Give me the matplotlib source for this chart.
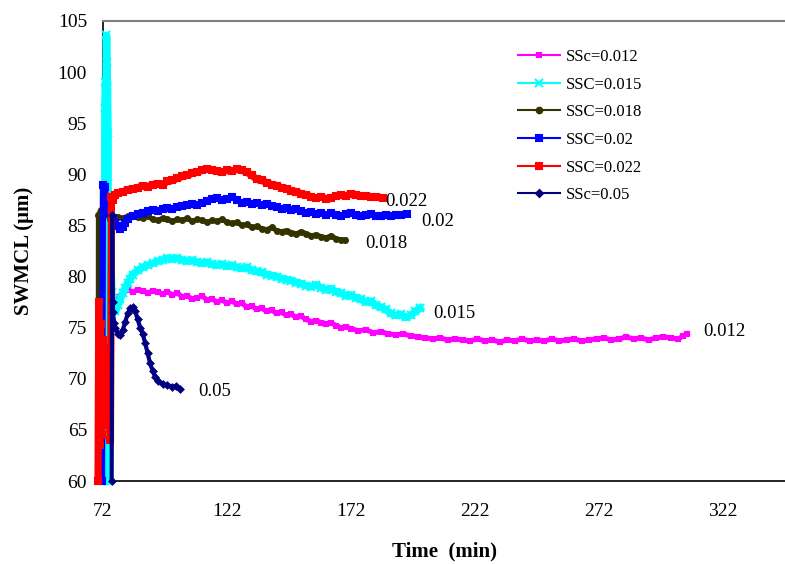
import matplotlib
matplotlib.use("Agg")
import matplotlib.pyplot as plt
from matplotlib.lines import Line2D

plt.rcParams['font.family'] = ['Liberation Serif', 'DejaVu Serif']

# ---------------- data ----------------
t_012 = [71.6, 72.0, 72.2, 72.5, 73.0, 73.5, 74.0, 75.0, 76.0, 78, 80, 82, 84, 86, 88, 90, 92, 94, 96, 98,
         100, 102, 104, 106, 108, 110, 112, 114, 116, 118, 120, 122, 124, 126, 128, 130, 132, 134, 136,
         138, 140, 142, 144, 146, 148, 150, 152, 154, 156, 158, 160, 162, 164, 166, 168, 170, 172, 175,
         178, 181, 184, 187, 190, 193, 196, 199, 202, 205, 208, 211, 214, 217, 220, 223, 226, 229, 232,
         235, 238, 241, 244, 247, 250, 253, 256, 259, 262, 265, 268, 271, 274, 277, 280, 283, 286, 289,
         292, 295, 298, 301, 304, 306, 307.5]
v_012 = [60.0, 89.0, 64.0, 79.0, 78.5, 78.0, 77.5, 77.0, 77.3, 78.0, 78.4, 78.7, 78.5, 78.7, 78.6, 78.4,
         78.6, 78.5, 78.3, 78.5, 78.2, 78.4, 78.0, 78.1, 77.8, 77.9, 78.1, 77.7, 77.8, 77.5, 77.7, 77.4,
         77.6, 77.3, 77.4, 77.0, 77.1, 76.8, 76.9, 76.6, 76.7, 76.4, 76.5, 76.2, 76.3, 76.0, 76.1, 75.8,
         75.6, 75.7, 75.5, 75.4, 75.5, 75.2, 75.0, 75.1, 74.9, 74.7, 74.8, 74.5, 74.6, 74.4, 74.3, 74.4,
         74.2, 74.1, 74.0, 73.9, 74.0, 73.8, 73.9, 73.8, 73.7, 73.9, 73.7, 73.8, 73.6, 73.8, 73.7, 73.9,
         73.7, 73.8, 73.7, 73.9, 73.7, 73.8, 73.9, 73.7, 73.8, 73.9, 74.0, 73.8, 73.9, 74.1, 73.9, 74.0,
         73.8, 74.0, 74.1, 74.0, 73.9, 74.2, 74.4]

t_015 = [72.6, 72.8, 73.0, 73.2, 73.4, 73.6, 73.8, 74.0, 74.2, 75.0, 75.5, 76, 77, 78, 79, 80, 81, 82, 83,
         84, 86, 88, 90, 92, 94, 96, 98, 100, 102, 104, 106, 108, 110, 112, 114, 116, 118, 120, 122,
         124, 126, 128, 130, 132, 134, 136, 138, 140, 142, 144, 146, 148, 150, 152, 154, 156, 158, 160,
         162, 164, 166, 168, 170, 172, 174, 176, 178, 180, 182, 184, 186, 188, 190, 192, 194, 196, 198,
         199.8]
v_015 = [60.0, 96.5, 99.0, 97.5, 103.6, 101.0, 98.5, 94.0, 60.0, 83.0, 78.5, 77.0, 76.6, 77.2, 77.8,
         78.4, 78.9, 79.4, 79.8, 80.2, 80.6, 80.9, 81.1, 81.3, 81.5, 81.6, 81.8, 81.7, 81.8, 81.6, 81.5,
         81.6, 81.4, 81.3, 81.4, 81.2, 81.1, 81.2, 81.0, 81.1, 80.9, 80.8, 80.9, 80.6, 80.5, 80.4, 80.2,
         80.1, 80.0, 79.8, 79.7, 79.6, 79.4, 79.3, 79.1, 79.0, 79.2, 78.9, 78.7, 78.8, 78.5, 78.4, 78.1,
         78.2, 77.9, 77.8, 77.5, 77.6, 77.2, 77.0, 76.8, 76.4, 76.2, 76.3, 76.0, 76.2, 76.6, 76.9]

t_018 = [70.0, 70.1, 71.0, 72.5, 73.2, 74, 75, 76, 77, 78, 80, 82, 84, 86, 88, 90, 92, 94, 96, 98, 100,
         102, 104, 106, 108, 110, 112, 114, 116, 118, 120, 122, 124, 126, 128, 130, 132, 134, 136, 138,
         140, 142, 144, 146, 148, 150, 152, 154, 156, 158, 160, 162, 164, 166, 168, 169.6]
v_018 = [60.0, 86.0, 86.5, 86.8, 86.3, 86.0, 85.6, 85.4, 85.5, 85.8, 85.7, 85.9, 86.0, 85.8, 85.7, 85.9,
         85.6, 85.5, 85.7, 85.6, 85.4, 85.6, 85.5, 85.7, 85.4, 85.6, 85.5, 85.3, 85.5, 85.4, 85.6, 85.3,
         85.2, 85.3, 85.0, 85.1, 84.8, 84.9, 84.7, 84.6, 84.8, 84.5, 84.4, 84.5, 84.3, 84.2, 84.4, 84.2,
         84.0, 84.1, 83.9, 83.8, 84.0, 83.7, 83.6, 83.6]

t_02 = [71.6, 72.0, 72.4, 72.8, 73.3, 74, 75, 76, 77, 78, 79, 80, 81, 82, 84, 86, 88, 90, 92, 94, 96, 98,
        100, 102, 104, 106, 108, 110, 112, 114, 116, 118, 120, 122, 124, 126, 128, 130, 132, 134, 136,
        138, 140, 142, 144, 146, 148, 150, 152, 154, 156, 158, 160, 162, 164, 166, 168, 170, 172, 174,
        176, 178, 180, 182, 184, 186, 188, 190, 192, 194.6]
v_02 = [60.0, 89.0, 87.5, 88.8, 86.5, 86.2, 86.2, 85.7, 85.2, 84.9, 84.7, 84.8, 85.2, 85.6, 85.9, 86.1,
        86.2, 86.4, 86.5, 86.4, 86.6, 86.7, 86.6, 86.8, 86.9, 87.0, 87.1, 87.0, 87.2, 87.4, 87.6, 87.7,
        87.5, 87.6, 87.8, 87.5, 87.2, 87.3, 87.1, 87.2, 87.0, 87.1, 86.9, 86.8, 86.6, 86.7, 86.5, 86.6,
        86.4, 86.2, 86.3, 86.1, 86.2, 86.0, 86.2, 86.0, 85.9, 86.1, 86.2, 86.0, 85.9, 86.0, 86.1, 85.9,
        85.9, 86.0, 85.9, 86.0, 86.0, 86.1]

t_022 = [70.0, 70.3, 70.6, 71.0, 71.4, 71.8, 72.2, 72.6, 73.0, 73.4, 73.8, 74.2, 74.6, 75.0, 75.4, 76, 77,
         78, 80, 82, 84, 86, 88, 90, 92, 94, 96, 98, 100, 102, 104, 106, 108, 110, 112, 114, 116, 118,
         120, 122, 124, 126, 128, 130, 132, 134, 136, 138, 140, 142, 144, 146, 148, 150, 152, 154, 156,
         158, 160, 162, 164, 166, 168, 170, 172, 174, 176, 178, 180, 182, 184.9]
v_022 = [60.0, 77.5, 63.5, 75.4, 64.5, 73.8, 66.0, 72.5, 67.0, 71.0, 68.0, 73.0, 65.5, 64.0, 87.8, 87.5,
         88.0, 88.2, 88.3, 88.5, 88.6, 88.7, 88.9, 88.8, 89.0, 89.1, 89.0, 89.3, 89.4, 89.6, 89.8, 89.9,
         90.1, 90.2, 90.4, 90.5, 90.4, 90.3, 90.2, 90.4, 90.3, 90.5, 90.4, 90.2, 89.9, 89.5, 89.4, 89.2,
         89.0, 88.9, 88.7, 88.6, 88.4, 88.3, 88.1, 88.0, 87.8, 87.7, 87.8, 87.6, 87.7, 87.9, 88.0, 87.9,
         88.1, 88.0, 87.9, 87.9, 87.8, 87.8, 87.7]

t_05 = [75.5, 75.7, 75.9, 76.0, 76.5, 77, 78, 79, 80, 81, 82, 83, 84, 85, 86, 87, 88, 89, 90, 91, 92,
        93, 94, 96, 98, 100, 101.5, 103]
v_05 = [60.0, 86.0, 77.5, 76.5, 75.5, 75.0, 74.4, 74.3, 74.8, 75.6, 76.4, 76.9, 77.0, 76.6, 75.8, 75.0,
        74.4, 73.5, 72.5, 71.5, 70.8, 70.2, 69.8, 69.5, 69.4, 69.2, 69.3, 69.0]

series_labels = ["SSc=0.012", "SSC=0.015", "SSC=0.018", "SSC=0.02", "SSC=0.022", "SSc=0.05"]
end_labels = ["0.012", "0.015", "0.018", "0.02", "0.022", "0.05"]
x_ticks = [72, 122, 172, 222, 272, 322]
y_ticks = [60, 65, 70, 75, 80, 85, 90, 95, 100, 105]

# ---------------- styling ----------------
times = [t_012, t_015, t_018, t_02, t_022, t_05]
vals = [v_012, v_015, v_018, v_02, v_022, v_05]
colors = ["#FF00FF", "#00FFFF", "#333300", "#0000FF", "#FF0000", "#000080"]
markers = ["s", "x", "o", "s", "s", "D"]
msizes = [3, 6, 3.5, 4, 5, 3]
lwidths = [3.6, 5.5, 3.5, 4.5, 5.2, 3.0]
# label offsets (points) from each curve's last point
offsets = [(11.5, 2), (9.5, -3.5), (14.5, -3), (10, -5), (1.5, -2.5), (13, -1.5)]

fig = plt.figure(figsize=(7.85, 5.64), dpi=100)
ax = fig.add_axes([103 / 785, 1 - 481 / 564, 682 / 785, 460 / 564])

for t, v, c, m, ms, lw in zip(times, vals, colors, markers, msizes, lwidths):
    ax.plot(t, v, color=c, lw=lw, marker=m, ms=ms, mec=c, mfc=c, mew=1.5,
            clip_on=False, solid_joinstyle='round', zorder=3)

for t, v, lab, off in zip(times, vals, end_labels, offsets):
    ax.annotate(lab, xy=(t[-1], v[-1]), xytext=off, textcoords='offset points',
                ha='left', va='center', fontsize=13.5)

ax.set_xlim(72, 347)
ax.set_ylim(60, 105)
ax.set_xticks(x_ticks)
ax.set_yticks(y_ticks)
ax.tick_params(length=0, labelsize=14)
ax.tick_params(axis='y', pad=11.5)
ax.tick_params(axis='x', pad=16)
ax.spines['right'].set_visible(False)
ax.spines['top'].set_color('#808080')
ax.spines['top'].set_linewidth(1.5)
ax.spines['left'].set_linewidth(1.2)
ax.spines['bottom'].set_linewidth(1.2)

ax.set_xlabel("Time  (min)", fontsize=15, fontweight='bold', labelpad=15)
ax.set_ylabel("SWMCL (μm)", fontsize=15, fontweight='bold', labelpad=17)

handles = []
leg_ms = [3, 6, 4, 4, 5, 3.5]
for c, m, ms in zip(colors, markers, leg_ms):
    handles.append(Line2D([], [], color=c, lw=1.5, marker=m, ms=ms, mfc=c, mec=c, mew=1.5))
ax.legend(handles, series_labels, loc='upper left', bbox_to_anchor=(518 / 785, 1 - 49 / 564),
          bbox_transform=fig.transFigure, frameon=False, fontsize=12, handlelength=2.5,
          handletextpad=0.4, labelspacing=0.7, borderpad=0, borderaxespad=0)

fig.savefig("out.png", dpi=100)
